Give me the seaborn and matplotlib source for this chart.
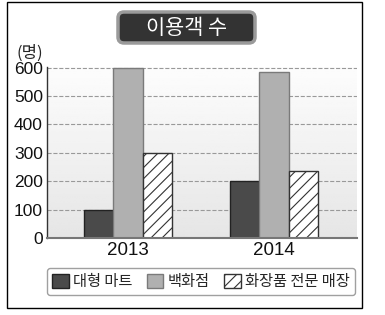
import numpy as np
import pandas as pd
import matplotlib
matplotlib.use('Agg')
import matplotlib.pyplot as plt
import seaborn as sns
from matplotlib.patches import FancyBboxPatch, Rectangle, Patch

# dados do gráfico
anos = ['2013', '2014']
lojas = ['대형 마트', '백화점', '화장품 전문 매장']
mart = [100, 200]
dept = [600, 583]
cosm = [300, 235]
yticks = [0, 100, 200, 300, 400, 500, 600]

dados = pd.DataFrame({
    'ano': anos * 3,
    'loja': [lojas[0]] * 2 + [lojas[1]] * 2 + [lojas[2]] * 2,
    'valor': mart + dept + cosm,
})

sns.set_style('white')
plt.rcParams['font.family'] = ['Liberation Sans', 'Noto Sans CJK KR']
plt.rcParams['hatch.linewidth'] = 0.8

cores = ['#4a4a4a', '#b0b0b0', 'white']
bordas = ['#222222', '#7a7a7a', '#333333']
hatches = ['', '', '///']

fig = plt.figure(figsize=(3.85, 3.15), dpi=100)
ax = fig.add_axes([47 / 385, 1 - 238 / 315, 310 / 385, 171 / 315])

sns.barplot(data=dados, x='ano', y='valor', hue='loja', palette=cores,
            width=0.6, saturation=1, legend=False, ax=ax)

for i, cont in enumerate(ax.containers):
    for p in cont:
        p.set_facecolor(cores[i])
        p.set_edgecolor(bordas[i])
        p.set_linewidth(1.0)
        p.set_hatch(hatches[i])
        p.set_zorder(2)

x0, x1 = -0.555, 1.568
# fundo em degradê
grad = np.linspace(0.99, 0.90, 100).reshape(-1, 1)
ax.imshow(grad, cmap='gray', vmin=0, vmax=1, extent=[x0, x1, 0, 602],
          aspect='auto', zorder=0.1)
ax.set_xlim(x0, x1)
ax.set_ylim(0, 602)

ax.set_yticks(yticks)
ax.yaxis.grid(True, ls='--', color='#999999', lw=0.8)
ax.set_axisbelow(True)
ax.set_xlabel('')
ax.set_ylabel('')
ax.tick_params(axis='y', length=0, pad=3, labelsize=12.5, colors='#111111')
ax.tick_params(axis='x', length=0, pad=3, labelsize=13.5, colors='#111111')
for s in ['top', 'right']:
    ax.spines[s].set_visible(False)
ax.spines['left'].set_color('#333333')
ax.spines['left'].set_linewidth(1.0)
ax.spines['bottom'].set_color('#777777')
ax.spines['bottom'].set_linewidth(1.5)

fig.text(30 / 385, 1 - 53 / 315, '(명)', ha='center', va='center',
         fontsize=12, family=['Noto Sans CJK KR'])

# caixa do título
caixa = FancyBboxPatch((1.18, (315 - 43) / 100), 1.37, 0.31,
                       boxstyle='round,pad=0,rounding_size=0.06',
                       transform=fig.dpi_scale_trans, fc='#333333',
                       ec='#9a9a9a', lw=2.5)
fig.add_artist(caixa)
fig.text(1.865, (315 - 28) / 100, '이용객 수', transform=fig.dpi_scale_trans,
         ha='center', va='center', color='white', fontsize=15,
         family=['Noto Sans CJK KR'])

# moldura externa
moldura = Rectangle((0.07, 0.07), 3.55, 3.06, transform=fig.dpi_scale_trans,
                    fc='none', ec='black', lw=1)
fig.add_artist(moldura)

handles = [Patch(fc=cores[i], ec=bordas[i], hatch=hatches[i]) for i in range(3)]
leg = fig.legend(handles, lojas, loc='center',
                 bbox_to_anchor=(201 / 385, 1 - 281.5 / 315),
                 ncol=3, frameon=True, fancybox=True,
                 edgecolor='#888888', handlelength=1.1,
                 handleheight=1.0, handletextpad=0.3, columnspacing=0.9,
                 borderpad=0.35, prop={'family': ['Noto Sans CJK KR'], 'size': 11})
leg.get_frame().set_linewidth(1.0)

fig.savefig('out.png', dpi=100)
